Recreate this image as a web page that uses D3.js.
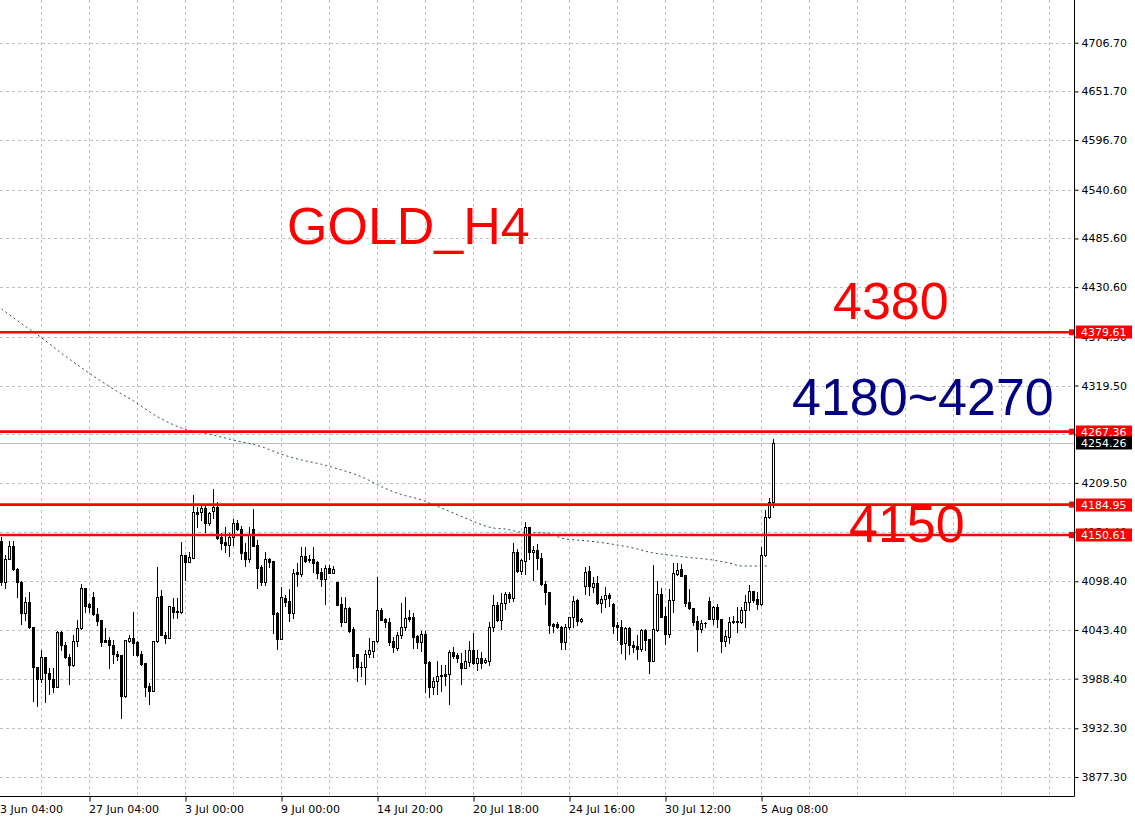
<!DOCTYPE html>
<html>
<head>
<meta charset="utf-8">
<script src="https://cdn.jsdelivr.net/npm/d3@7"></script>
<style>
  body { margin: 0; background: #fff; overflow: hidden; }
  svg { display: block; }
</style>
</head>
<body>
<svg id="chart" width="1135" height="817"></svg>
<script>
// ======================
// Data
// ======================
const barOpen = [
  4143.8, 4097.9, 4123.5, 4138.2, 4111.8, 4097.9, 4062.1, 4074.6, 4046.3, 4001.9,
  3987.6, 4012.4, 3995.1, 3987.6, 3979.3, 4041.4, 4026.4, 4013.2, 4003.4, 4030.5,
  4045.2, 4090.4, 4072.3, 4080.2, 4061.0, 4054.6, 4032.0, 4032.0, 4026.0, 4015.8,
  4015.1, 3969.2, 4031.3, 4033.9, 4030.1, 4015.8, 4005.7, 3980.4, 3974.8, 4030.5,
  4081.7, 4038.0, 4034.3, 4069.3, 4063.7, 4063.7, 4128.0, 4120.5, 4125.0, 4176.2,
  4177.0, 4181.5, 4164.6, 4178.1, 4182.6, 4148.7, 4142.3, 4139.3, 4148.0, 4164.6,
  4157.0, 4131.0, 4123.9, 4157.4, 4139.3, 4114.5, 4097.9, 4123.5, 4121.3, 4062.9,
  4033.2, 4079.1, 4076.1, 4062.9, 4108.4, 4106.9, 4126.9, 4123.5, 4123.5, 4120.5,
  4108.8, 4100.9, 4113.0, 4108.1, 4097.2, 4072.7, 4052.7, 4068.5, 4044.4, 4016.2,
  4001.9, 4001.2, 4015.8, 4020.0, 4030.9, 4065.5, 4055.4, 4052.7, 4030.9, 4023.4,
  4037.7, 4046.3, 4057.6, 4057.6, 4036.9, 4030.1, 4038.8, 4007.6, 3979.3, 3985.7,
  3991.4, 3993.6, 3993.2, 4018.1, 4015.1, 4005.7, 4000.8, 4007.6, 4020.7, 4005.7,
  4011.3, 4006.8, 4008.7, 4046.3, 4071.6, 4054.6, 4073.4, 4084.0, 4079.8, 4131.0,
  4110.3, 4121.6, 4159.3, 4131.0, 4133.3, 4124.3, 4094.9, 4085.9, 4049.7, 4049.7,
  4047.1, 4029.4, 4047.1, 4057.6, 4077.2, 4053.5, 4093.4, 4109.9, 4092.2, 4096.0,
  4073.4, 4077.9, 4082.8, 4072.7, 4048.9, 4046.3, 4028.2, 4045.9, 4026.4, 4025.2,
  4021.8, 4043.3, 4033.1, 4008.7, 4043.3, 4083.9, 4059.1, 4038.4, 4077.2, 4106.6,
  4111.8, 4105.4, 4074.5, 4067.8, 4053.8, 4044.4, 4051.6, 4076.1, 4055.7, 4069.7,
  4055.3, 4031.3, 4035.8, 4053.5, 4053.5, 4051.9, 4065.9, 4074.5, 4087.0, 4078.3,
  4072.3, 4127.6, 4170.6, 4188.3
];
const barHigh = [
  4148.7, 4128.0, 4143.8, 4143.8, 4113.0, 4098.7, 4080.2, 4086.6, 4046.3, 4002.0,
  4020.7, 4012.6, 4000.0, 4000.0, 4042.0, 4042.2, 4030.1, 4015.8, 4037.7, 4054.6,
  4095.7, 4091.0, 4073.4, 4085.9, 4067.8, 4055.0, 4045.2, 4035.4, 4032.0, 4019.6,
  4015.5, 4032.2, 4037.7, 4064.0, 4030.5, 4019.6, 4006.0, 3983.1, 4030.8, 4114.9,
  4088.5, 4041.4, 4070.8, 4079.1, 4079.1, 4143.1, 4128.5, 4131.8, 4195.8, 4182.6,
  4184.5, 4184.5, 4177.0, 4202.6, 4188.3, 4152.5, 4160.0, 4152.5, 4168.3, 4167.6,
  4160.8, 4141.2, 4160.0, 4180.0, 4145.0, 4116.7, 4131.8, 4124.3, 4121.5, 4063.2,
  4091.5, 4082.9, 4089.6, 4111.8, 4118.6, 4137.4, 4137.4, 4128.0, 4137.4, 4120.8,
  4113.0, 4116.7, 4116.7, 4115.6, 4097.5, 4081.0, 4081.0, 4068.8, 4047.1, 4016.5,
  4007.6, 4020.7, 4033.9, 4031.2, 4103.6, 4068.5, 4057.2, 4057.2, 4035.8, 4041.4,
  4073.4, 4080.2, 4065.9, 4062.1, 4037.7, 4042.6, 4042.6, 4007.8, 3990.6, 4008.3,
  4003.8, 4003.8, 4020.7, 4024.5, 4017.0, 4017.7, 4020.7, 4030.9, 4039.6, 4020.7,
  4018.1, 4012.1, 4052.0, 4082.9, 4075.3, 4084.7, 4085.9, 4086.6, 4141.2, 4134.8,
  4123.2, 4165.7, 4159.5, 4138.6, 4140.5, 4129.9, 4099.0, 4086.2, 4050.9, 4052.0,
  4047.8, 4049.7, 4057.8, 4081.7, 4078.0, 4056.5, 4114.9, 4115.6, 4103.5, 4104.7,
  4081.7, 4092.2, 4084.7, 4073.4, 4052.7, 4054.6, 4047.1, 4047.1, 4031.3, 4037.6,
  4044.1, 4044.1, 4033.3, 4116.7, 4099.0, 4090.4, 4069.7, 4089.2, 4119.4, 4119.4,
  4117.5, 4105.6, 4089.2, 4068.0, 4059.5, 4054.6, 4052.7, 4080.9, 4070.8, 4072.7,
  4055.5, 4043.3, 4058.4, 4059.1, 4068.9, 4069.7, 4082.8, 4094.1, 4087.7, 4086.6,
  4136.7, 4178.8, 4192.0, 4258.7
];
const barLow = [
  4094.2, 4090.4, 4123.0, 4111.1, 4080.2, 4049.7, 4054.6, 4045.2, 3963.5, 3957.9,
  3985.0, 3962.4, 3970.7, 3973.7, 3978.6, 4020.7, 4011.3, 3982.3, 4003.0, 4024.9,
  4044.4, 4064.0, 4064.0, 4060.5, 4049.0, 4024.9, 4029.8, 4000.0, 4005.7, 4009.4,
  3943.5, 3967.3, 4030.1, 4015.1, 4013.9, 4003.8, 3969.2, 3959.4, 3974.5, 4030.0,
  4037.6, 4028.3, 4034.0, 4056.5, 4056.5, 4062.1, 4099.8, 4120.0, 4124.5, 4160.0,
  4167.6, 4154.4, 4161.9, 4170.2, 4145.7, 4134.8, 4131.8, 4127.3, 4139.3, 4156.3,
  4123.5, 4116.0, 4119.8, 4138.2, 4091.1, 4094.2, 4094.2, 4114.9, 4040.3, 4021.5,
  4032.8, 4070.8, 4053.9, 4057.2, 4093.4, 4104.7, 4120.5, 4119.8, 4108.4, 4102.4,
  4093.4, 4072.3, 4107.8, 4107.8, 4071.3, 4048.2, 4052.4, 4041.4, 4000.0, 3986.1,
  3991.4, 3982.3, 4013.2, 4013.2, 4030.1, 4054.3, 4047.1, 4026.4, 4018.8, 4020.7,
  4034.7, 4043.3, 4053.5, 4023.4, 4022.6, 4020.0, 3973.7, 3968.0, 3970.7, 3970.7,
  3974.4, 3981.2, 3959.4, 4011.3, 4007.6, 3981.9, 4000.5, 4002.7, 4004.9, 3998.2,
  4000.0, 4005.7, 4003.8, 4042.6, 4053.9, 4044.1, 4066.7, 4075.3, 4076.1, 4108.4,
  4106.2, 4106.2, 4123.5, 4100.2, 4112.2, 4094.2, 4072.3, 4039.6, 4041.4, 4045.9,
  4021.9, 4021.5, 4044.1, 4047.1, 4049.0, 4052.7, 4083.6, 4082.8, 4085.8, 4072.7,
  4064.0, 4069.7, 4070.4, 4040.3, 4032.0, 4016.9, 4010.5, 4016.2, 4018.8, 4010.2,
  4019.9, 4020.7, 3995.1, 4008.3, 4042.2, 4058.0, 4027.5, 4035.8, 4064.0, 4105.4,
  4104.3, 4070.4, 4067.0, 4048.9, 4019.9, 4040.7, 4047.1, 4055.5, 4050.1, 4047.1,
  4018.8, 4025.6, 4028.2, 4050.8, 4041.4, 4051.6, 4046.3, 4065.9, 4075.3, 4067.0,
  4072.0, 4127.2, 4170.3, 4182.6
];
const barClose = [
  4097.9, 4123.5, 4138.2, 4111.8, 4097.9, 4062.1, 4074.6, 4046.3, 4001.9, 3987.6,
  4012.4, 3995.1, 3987.6, 3979.3, 4041.4, 4026.4, 4013.2, 4003.4, 4030.5, 4045.2,
  4090.4, 4070.8, 4069.3, 4061.0, 4053.9, 4030.1, 4030.1, 4026.0, 4015.8, 4013.9,
  3969.2, 4032.0, 4033.9, 4029.0, 4015.1, 4004.9, 3979.3, 3974.8, 4030.5, 4080.2,
  4038.0, 4034.3, 4070.4, 4063.7, 4065.0, 4128.0, 4120.5, 4126.2, 4176.2, 4174.3,
  4181.5, 4164.6, 4175.1, 4182.6, 4146.9, 4142.0, 4139.3, 4148.0, 4164.6, 4157.0,
  4130.7, 4123.9, 4150.6, 4138.6, 4113.7, 4097.9, 4123.5, 4120.5, 4061.0, 4033.2,
  4080.2, 4075.3, 4062.9, 4108.1, 4106.9, 4126.9, 4121.3, 4122.0, 4119.4, 4108.1,
  4100.9, 4113.0, 4108.1, 4112.2, 4071.6, 4052.7, 4067.8, 4042.6, 4014.3, 4001.9,
  4001.2, 4015.8, 4020.7, 4030.9, 4065.5, 4054.6, 4052.0, 4030.1, 4023.7, 4037.7,
  4046.3, 4057.2, 4055.7, 4035.8, 4030.1, 4038.8, 4006.4, 3979.3, 3985.7, 3991.4,
  3992.5, 3991.7, 4018.1, 4014.3, 4012.1, 4000.8, 4008.3, 4020.7, 4005.7, 4011.3,
  4006.4, 4009.4, 4046.3, 4071.6, 4054.6, 4073.4, 4084.0, 4079.8, 4131.0, 4110.3,
  4122.4, 4159.3, 4131.0, 4133.3, 4124.3, 4094.9, 4085.9, 4049.0, 4048.2, 4047.1,
  4029.4, 4047.1, 4057.6, 4076.5, 4053.5, 4055.7, 4109.2, 4093.4, 4096.0, 4073.4,
  4078.3, 4082.8, 4079.1, 4048.2, 4046.3, 4027.1, 4045.9, 4026.4, 4024.5, 4021.8,
  4043.3, 4032.0, 4008.7, 4044.4, 4083.9, 4058.4, 4038.4, 4077.2, 4107.3, 4111.1,
  4104.7, 4074.2, 4067.8, 4052.7, 4044.4, 4051.6, 4050.8, 4055.7, 4069.7, 4055.3,
  4031.3, 4036.5, 4052.7, 4051.9, 4051.9, 4065.9, 4074.5, 4087.0, 4077.2, 4072.3,
  4127.6, 4170.6, 4188.3, 4254.26
];

// moving average, [bar index, price]
const maPoints = [
  [0, 4406.0], [7, 4383.0], [10, 4373.5], [15, 4355.9], [22, 4333.3], [27, 4318.2],
  [33, 4302.0], [39, 4284.3], [46, 4270.0], [51, 4265.5], [58, 4257.9], [65, 4250.4],
  [70, 4241.8], [75, 4235.4], [80, 4230.5], [85, 4224.1], [90, 4216.5], [95, 4205.2],
  [99, 4197.7], [105, 4190.2], [110, 4181.1], [116, 4169.8], [123, 4158.5], [126, 4157.4],
  [130, 4153.8], [137, 4152.7], [140, 4147.1], [144, 4144.8], [147, 4143.7], [154, 4139.3],
  [158, 4135.9], [163, 4130.3], [167, 4128.0], [171, 4125.7], [178, 4122.3], [182, 4118.9],
  [185, 4115.6], [192, 4115.6]
];

const priceTicks = [
  4706.70, 4651.70, 4596.70, 4540.60, 4485.60, 4430.60, 4374.50, 4319.50,
  4264.40, 4209.50, 4154.40, 4098.40, 4043.40, 3988.40, 3932.30, 3877.30
];
const timeTickBars = [-2, 22, 46, 70, 94, 118, 142, 166, 190];
const timeTickLabels = [
  "23 Jun 04:00", "27 Jun 04:00", "3 Jul 00:00", "9 Jul 00:00", "14 Jul 20:00",
  "20 Jul 18:00", "24 Jul 16:00", "30 Jul 12:00", "5 Aug 08:00"
];
const levelPrices = [4379.61, 4267.36, 4184.95, 4150.61];
const bidPrice = 4254.26;

// ======================
// Layout
// ======================
const svg = d3.select("#chart");
const plotRight = 1074.5;
const plotBottom = 796.5;
const axisFont = "'DejaVu Sans', Verdana, sans-serif";
const bigFont = "'Liberation Sans', Arial, sans-serif";

// 4 px per bar
const x = d3.scaleLinear().domain([0, 268]).range([1.5, 1073.5]);
const y = d3.scaleLinear().domain([3877.3, 4706.7]).range([777, 42.7]);

svg.append("rect").attr("width", 1135).attr("height", 817).attr("fill", "#fff");

svg.append("defs").append("clipPath").attr("id", "plot-clip")
  .append("rect").attr("x", 0).attr("y", 0).attr("width", 1074).attr("height", 796);

const plot = svg.append("g").attr("clip-path", "url(#plot-clip)");

// =========================
// Grid
// =========================
const gridBars = d3.range(10, 268, 12);

plot.append("g").selectAll("line")
  .data(priceTicks)
  .enter().append("line")
  .attr("x1", 0).attr("x2", plotRight)
  .attr("y1", d => Math.round(y(d)) + 0.5)
  .attr("y2", d => Math.round(y(d)) + 0.5)
  .attr("stroke", "#c0c0c0")
  .attr("stroke-dasharray", "3,3");

plot.append("g").selectAll("line")
  .data(gridBars)
  .enter().append("line")
  .attr("x1", d => x(d)).attr("x2", d => x(d))
  .attr("y1", 0).attr("y2", plotBottom)
  .attr("stroke", "#c0c0c0")
  .attr("stroke-dasharray", "3,3");

// bid line
plot.append("line")
  .attr("x1", 0).attr("x2", plotRight)
  .attr("y1", Math.round(y(bidPrice)) + 0.5)
  .attr("y2", Math.round(y(bidPrice)) + 0.5)
  .attr("stroke", "#c0c0c0");

// =========================
// Moving average
// =========================
const maLine = d3.line()
  .x(d => x(d[0]))
  .y(d => y(d[1]))
  .curve(d3.curveMonotoneX);

plot.append("path")
  .datum(maPoints)
  .attr("d", maLine)
  .attr("fill", "none")
  .attr("stroke", "#2f4f4f")
  .attr("stroke-width", 1)
  .attr("stroke-dasharray", "2,3");

// =========================
// Candles
// =========================
const bars = barOpen.map((o, i) => ({
  i, o, h: barHigh[i], l: barLow[i], c: barClose[i]
}));

const candle = plot.append("g").selectAll("g")
  .data(bars)
  .enter().append("g");

candle.append("line")
  .attr("x1", d => x(d.i)).attr("x2", d => x(d.i))
  .attr("y1", d => Math.round(y(d.h)))
  .attr("y2", d => Math.round(y(d.l)) + 1)
  .attr("stroke", "#000")
  .attr("shape-rendering", "crispEdges");

candle.append("rect")
  .attr("x", d => x(d.i) - 1)
  .attr("width", 2)
  .attr("y", d => Math.round(y(Math.max(d.o, d.c))) + 0.5)
  .attr("height", d => Math.max(Math.round(y(Math.min(d.o, d.c))) - Math.round(y(Math.max(d.o, d.c))), 0.01))
  .attr("fill", d => d.c >= d.o ? "#fff" : "#000")
  .attr("stroke", "#000")
  .attr("stroke-width", 1);

// =========================
// Horizontal levels
// =========================
plot.append("g").selectAll("line")
  .data(levelPrices)
  .enter().append("line")
  .attr("x1", 0).attr("x2", 1070)
  .attr("y1", d => y(d)).attr("y2", d => y(d))
  .attr("stroke", "#ff0000")
  .attr("stroke-width", 2.6);

svg.append("g").selectAll("rect")
  .data(levelPrices)
  .enter().append("rect")
  .attr("x", 1069).attr("width", 6)
  .attr("y", d => y(d) - 3).attr("height", 6)
  .attr("fill", "#ff0000");

// =========================
// Annotations
// =========================
const notes = svg.append("g").style("font-family", bigFont).style("font-size", "52px");

notes.append("text").attr("x", 287).attr("y", 244).attr("fill", "#ff0000").text("GOLD_H4");
notes.append("text").attr("x", 833).attr("y", 319).attr("fill", "#ff0000").text("4380");
notes.append("text").attr("x", 792).attr("y", 415).attr("fill", "#000080").text("4180~4270");
notes.append("text").attr("x", 849).attr("y", 542).attr("fill", "#ff0000").text("4150");

// =========================
// Axes
// =========================
const yAxis = svg.append("g")
  .attr("transform", `translate(${plotRight},0)`)
  .call(d3.axisRight(y)
    .tickValues(priceTicks)
    .tickSize(4)
    .tickPadding(3)
    .tickFormat(d3.format(".2f")));
yAxis.select(".domain").remove();
yAxis.selectAll("text").style("font-family", axisFont).style("font-size", "11px").attr("fill", "#000");

const xAxis = svg.append("g")
  .attr("transform", `translate(0,${plotBottom})`)
  .call(d3.axisBottom(x)
    .tickValues(timeTickBars)
    .tickSize(5)
    .tickPadding(4)
    .tickFormat((d, i) => timeTickLabels[i]));
xAxis.select(".domain").remove();
xAxis.selectAll("text")
  .attr("text-anchor", "start")
  .attr("x", -1)
  .style("font-family", axisFont).style("font-size", "11px").attr("fill", "#000");

// frame
svg.append("line").attr("x1", plotRight).attr("x2", plotRight)
  .attr("y1", 0).attr("y2", plotBottom).attr("stroke", "#000");
svg.append("line").attr("x1", 0).attr("x2", plotRight)
  .attr("y1", plotBottom).attr("y2", plotBottom).attr("stroke", "#000");

// =========================
// Price labels on the axis
// =========================
const tags = svg.append("g").selectAll("g")
  .data(levelPrices.map(p => ({ p, bg: "#ff0000" })).concat([{ p: bidPrice, bg: "#000" }]))
  .enter().append("g")
  .attr("transform", d => `translate(1076,${Math.round(y(d.p))})`);

tags.append("rect")
  .attr("x", 0).attr("y", -6.5)
  .attr("width", 56).attr("height", 13)
  .attr("fill", d => d.bg);

tags.append("text")
  .attr("x", 5).attr("y", 4)
  .style("font-family", axisFont).style("font-size", "11px")
  .attr("fill", "#fff")
  .text(d => d3.format(".2f")(d.p));
</script>
</body>
</html>
